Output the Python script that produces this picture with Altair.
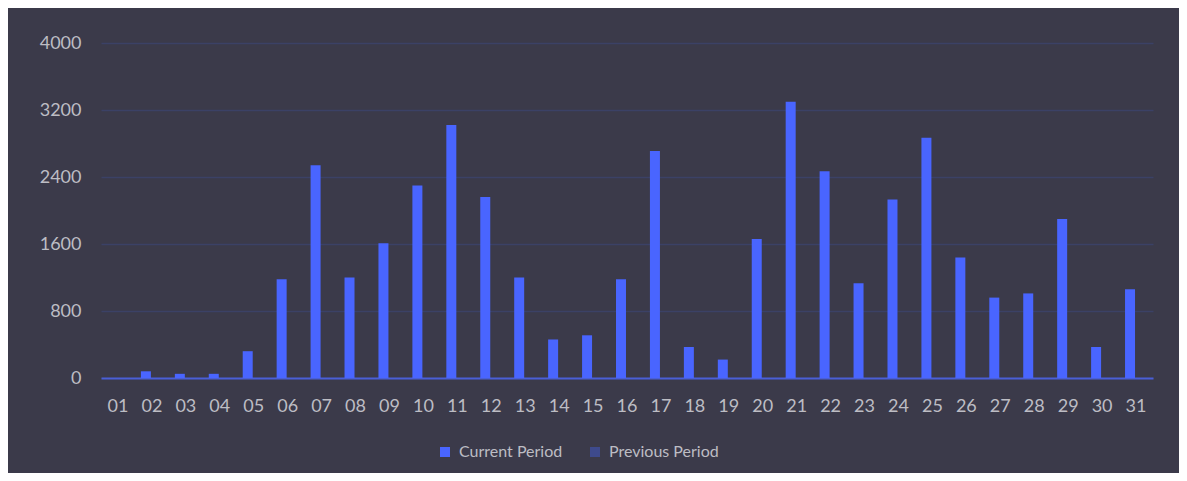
import altair as alt
import pandas as pd

days = [f"{i:02d}" for i in range(1, 32)]
current = [0, 80, 50, 50, 320, 1180, 2540, 1200, 1610, 2300, 3020, 2160, 1200, 460, 510,
           1180, 2710, 370, 220, 1660, 3300, 2470, 1130, 2130, 2870, 1440, 960, 1010, 1900, 370, 1060]
previous = [0] * 31
series_names = ["Current Period", "Previous Period"]
series_colors = ["#4965ff", "#3e4a8c"]
y_ticks = [0, 800, 1600, 2400, 3200, 4000]

rows = []
for d, c, p in zip(days, current, previous):
    rows.append({"day": d, "series": series_names[0], "value": c})
    rows.append({"day": d, "series": series_names[1], "value": p})
df = pd.DataFrame(rows)

FONT = "Lato"

chart = alt.Chart(df).mark_bar().encode(
    x=alt.X("day:N", sort=days, title=None,
            scale=alt.Scale(paddingInner=0.3516, paddingOuter=0.1758),
            axis=alt.Axis(labelAngle=0, ticks=False, domain=True, domainColor="#4a5fd6",
                          domainWidth=2, labelColor="#bdbdc4", labelFontSize=18, labelFont=FONT,
                          labelPadding=19, grid=False)),
    xOffset=alt.XOffset("series:N", sort=series_names,
                        scale=alt.Scale(paddingInner=0.1667, paddingOuter=0)),
    y=alt.Y("value:Q", title=None,
            scale=alt.Scale(domain=[0, 4000], nice=False),
            axis=alt.Axis(values=y_ticks, format="d", ticks=False, domain=False,
                          labelColor="#bdbdc4", labelFontSize=18, labelFont=FONT,
                          labelPadding=20, gridColor="#3b4166", gridWidth=1.5)),
    color=alt.Color("series:N", sort=series_names,
                    scale=alt.Scale(domain=series_names, range=series_colors),
                    legend=alt.Legend(title=None, orient="none", direction="horizontal",
                                      legendX=336, legendY=401, padding=0,
                                      symbolType="square", symbolSize=100, symbolStrokeWidth=0,
                                      labelColor="#bdbdc4", labelFontSize=16, labelFont=FONT,
                                      labelOffset=6, columnPadding=24)),
).properties(
    width=1052,
    height=335,
    background="#3b3a4a",
    padding={"left": 93, "top": 35, "right": 26, "bottom": 95},
    autosize=alt.AutoSizeParams(type="none"),
).configure_view(stroke=None)

chart.save("out.html", embed_options={"renderer": "svg", "actions": False})
